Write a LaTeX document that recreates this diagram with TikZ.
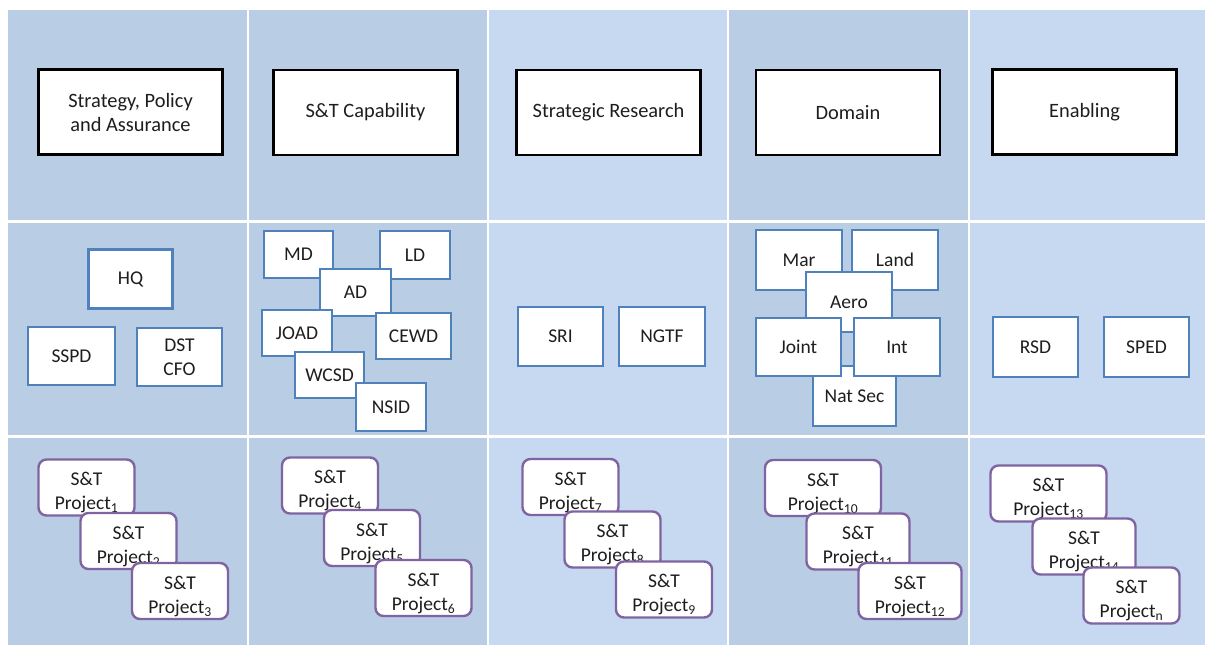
\documentclass[tikz,border=0pt]{standalone}
\usepackage{fontspec}
\setmainfont{Carlito}
\definecolor{cdark}{HTML}{B9CDE5}
\definecolor{clight}{HTML}{C6D9F1}
\definecolor{cblue}{HTML}{4F81BD}
\definecolor{cpurple}{HTML}{8064A2}
\definecolor{ctext}{HTML}{1E1E1E}
\tikzset{
  every node/.style={font=\fontsize{19.5}{24}\selectfont, text=ctext},
  headbox/.style={draw=black, line width=2.6pt, fill=white, minimum width=184pt, minimum height=85pt, align=center, inner sep=0pt,
     font=\fontsize{20.4}{24}\selectfont},
  unitbox/.style={draw=cblue, line width=2.4pt, fill=white, align=center, inner sep=0pt},
  projbox/.style={draw=cpurple, line width=2.4pt, fill=white, rounded corners=8pt, align=center, inner sep=0pt,
     minimum width=96pt, minimum height=56pt, text height=46pt, text depth=2pt},
  wideproj/.style={projbox, minimum width=116pt},
  midproj/.style={projbox, minimum width=103pt},
  divider/.style={white, line width=2pt},
  rowdivider/.style={white, line width=3pt}
}
\newcommand{\proj}[1]{S\&T\\Project\textsubscript{#1}}
\begin{document}
\begin{tikzpicture}[x=1pt, y=-1pt]
\useasboundingbox (0,0) rectangle (1205,645);
\fill[white] (0,0) rectangle (1205,645);
% column backgrounds
\fill[cdark]  (8,10) rectangle (248,645);
\fill[cdark]  (248,10) rectangle (488,645);
\fill[clight] (488,10) rectangle (728,645);
\fill[cdark]  (728,10) rectangle (969,645);
\fill[clight] (969,10) rectangle (1205,645);
% grid lines
\foreach \x in {248,488,728,969} \draw[divider] (\x,10) -- (\x,645);
\foreach \y in {221,436} \draw[rowdivider] (8,\y) -- (1205,\y);

% header row
\node[headbox] (h1) at (130.5,112) {Strategy, Policy\\and Assurance};
\node[headbox] (h2) at (365.5,112.5) {S\&T Capability};
\node[headbox] (h3) at (608.5,112.5) {Strategic Research};
\node[headbox] (h4) at (848,112.5) {Domain};
\node[headbox] (h5) at (1084.5,112) {Enabling};

% units row
\node[unitbox, minimum width=84pt, minimum height=59pt] (hq) at (130.5,279) {HQ};
\node[unitbox, minimum width=87pt, minimum height=58pt] (sspd) at (71.5,356) {SSPD};
\node[unitbox, minimum width=85pt, minimum height=58pt] (dst) at (179.5,357) {DST\\CFO};

\node[unitbox, minimum width=69pt, minimum height=47pt] (md) at (298.5,254.5) {MD};
\node[unitbox, minimum width=70pt, minimum height=48pt] (ld) at (415,255) {LD};
\node[unitbox, minimum width=71pt, minimum height=47pt] (ad) at (355.5,292.5) {AD};
\node[unitbox, minimum width=70pt, minimum height=46pt] (joad) at (297,333) {JOAD};
\node[unitbox, minimum width=75pt, minimum height=46pt] (cewd) at (413.5,336) {CEWD};
\node[unitbox, minimum width=69pt, minimum height=46pt] (wcsd) at (329.5,375) {WCSD};
\node[unitbox, minimum width=70pt, minimum height=48pt] (nsid) at (391,407) {NSID};

\node[unitbox, minimum width=85pt, minimum height=59pt] (sri) at (560.5,336.5) {SRI};
\node[unitbox, minimum width=86pt, minimum height=59pt] (ngtf) at (662,336.5) {NGTF};

\node[unitbox, minimum width=86pt, minimum height=60pt] (mar) at (799,260) {Mar};
\node[unitbox, minimum width=86pt, minimum height=60pt] (land) at (895,260) {Land};
\node[unitbox, minimum width=86pt, minimum height=60pt] (aero) at (849,302) {Aero};
\node[unitbox, minimum width=83pt, minimum height=60pt] (natsec) at (854.5,396) {Nat Sec};
\node[unitbox, minimum width=85pt, minimum height=58pt] (joint) at (798.5,347) {Joint};
\node[unitbox, minimum width=86pt, minimum height=58pt] (int) at (897,347) {Int};

\node[unitbox, minimum width=85pt, minimum height=60pt] (rsd) at (1035.5,347) {RSD};
\node[unitbox, minimum width=85pt, minimum height=60pt] (sped) at (1146.5,347) {SPED};

% projects row
\node[projbox] (p1) at (86.5,487.5) {\proj{1}};
\node[projbox] (p2) at (128.5,541) {\proj{2}};
\node[projbox] (p3) at (180,591) {\proj{3}};
\node[projbox] (p4) at (330,485.5) {\proj{4}};
\node[projbox] (p5) at (372,538) {\proj{5}};
\node[projbox] (p6) at (423.5,588) {\proj{6}};
\node[projbox] (p7) at (570.5,487) {\proj{7}};
\node[projbox] (p8) at (612.5,539.5) {\proj{8}};
\node[projbox] (p9) at (664,589.5) {\proj{9}};
\node[wideproj] (p10) at (823,488) {\proj{10}};
\node[midproj] (p11) at (858,541.5) {\proj{11}};
\node[midproj] (p12) at (910,591) {\proj{12}};
\node[wideproj] (p13) at (1048.5,493.5) {\proj{13}};
\node[midproj] (p14) at (1084,546.5) {\proj{14}};
\node[projbox] (pn) at (1131.5,595.5) {\proj{n}};
\end{tikzpicture}
\end{document}
